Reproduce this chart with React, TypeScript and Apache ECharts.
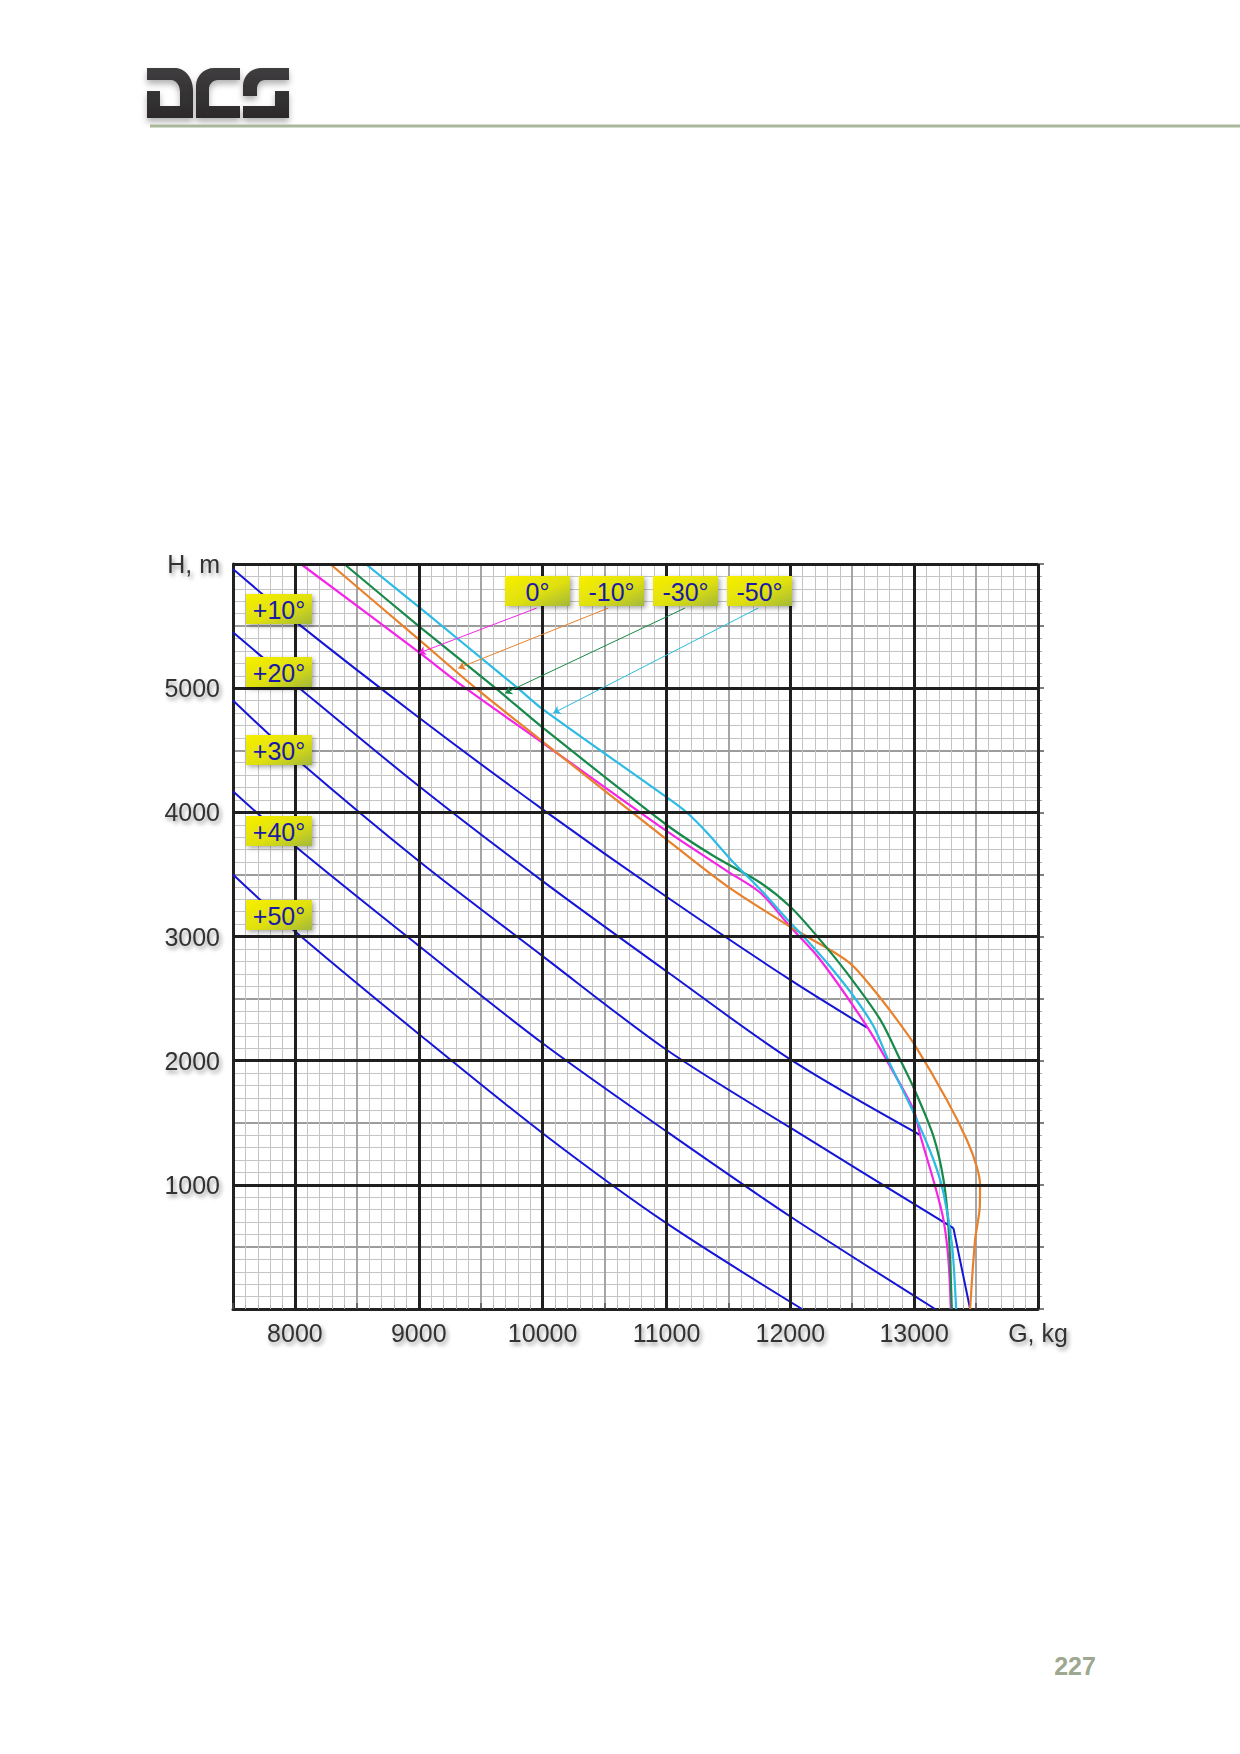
import React, { useEffect, useRef } from "react";
import * as echarts from "echarts";

// ---------- axis ranges & ticks ----------
const X_MIN = 7500;
const X_MAX = 14000;
const Y_MIN = 0;
const Y_MAX = 6000;
const xLabelValues = [8000, 9000, 10000, 11000, 12000, 13000];
const yLabelValues = [1000, 2000, 3000, 4000, 5000];
const xAxisName = "G, kg";
const yAxisName = "H, m";
const xMajor = [8000, 9000, 10000, 11000, 12000, 13000, 14000];
const yMajor = [1000, 2000, 3000, 4000, 5000, 6000];

// ---------- negative-temperature curves [G, H] ----------
const curve0 = [
  [8048, 6000], [9000, 5290], [9350, 5020], [10000, 4560], [11000, 3850],
  [11489, 3527], [11758, 3352], [12000, 3078], [12240, 2815], [12618, 2277],
  [12780, 2000], [12995, 1605], [13048, 1403], [13166, 1000], [13237, 718],
  [13277, 395], [13296, 0],
];
const curveM10 = [
  [8285, 6000], [9000, 5393], [9460, 5000], [10000, 4570], [11000, 3782],
  [11489, 3406], [12000, 3078], [12134, 3000], [12476, 2790], [12672, 2573],
  [12860, 2331], [13003, 2129], [13263, 1686], [13425, 1363], [13505, 1148],
  [13532, 1000], [13530, 825], [13492, 557], [13452, 0],
];
const curveM30 = [
  [8398, 6000], [9000, 5500], [9620, 5000], [10000, 4683], [11000, 3900],
  [11381, 3648], [11758, 3433], [12000, 3240], [12215, 3003], [12457, 2707],
  [12726, 2331], [12887, 2008], [13003, 1766], [13156, 1390], [13237, 1041],
  [13277, 664], [13304, 0],
];
const curveM50 = [
  [8572, 6000], [9000, 5654], [9800, 5000], [10000, 4831], [11000, 4122],
  [11166, 3997], [11328, 3836], [11543, 3594], [11758, 3379], [12000, 3110],
  [12107, 3000], [12296, 2788], [12511, 2519], [12672, 2277], [12793, 2000],
  [13003, 1565], [13156, 1202], [13237, 933], [13304, 530], [13339, 0],
];

// ---------- positive-temperature lines [G, H] ----------
const lineP10 = [[7500, 5960], [8000, 5540], [9000, 4764], [10000, 4024], [11000, 3320], [12000, 2650], [12620, 2265]];
const lineP20 = [[7500, 5450], [8000, 5030], [9000, 4212], [10000, 3446], [11000, 2720], [12000, 2010], [13050, 1400]];
const lineP30 = [[7500, 4900], [8000, 4440], [9000, 3608], [10000, 2842], [11000, 2088], [12000, 1460], [13317, 651]];
const lineP30Tail = [[13317, 651], [13452, 0]];
const lineP40 = [[7500, 4170], [8000, 3729], [9000, 2925], [10000, 2140], [11000, 1430], [12000, 745], [13169, 0]];
const lineP50 = [[7500, 3500], [8000, 3043], [9000, 2215], [10000, 1416], [11000, 691], [12094, 0]];

// ---------- label pointer arrows [start, tip] ----------
const arrow0 = [[9952, 5645], [8999, 5282]];
const arrowM10 = [[10530, 5645], [9319, 5161]];
const arrowM30 = [[11149, 5645], [9696, 4960]];
const arrowM50 = [[11741, 5645], [10086, 4799]];

// ---------- label texts ----------
const topLabelTexts = ["0°", "-10°", "-30°", "-50°"];
const leftLabelTexts = ["+10°", "+20°", "+30°", "+40°", "+50°"];
const pageNumber = "227";

// ---------- logo shapes ----------
const logoD = "M0 0 L28 0 C38 0 46 10 46 22 L46 50 L0 50 L0 23 L13 23 L13 38 L33 38 L33 24 C33 17 29 12 24 12 L0 12 Z";
const logoC = "M0 50 L0 18 C0 8 8 0 18 0 L44 0 L44 12 L22 12 C17 12 13 16 13 21 L13 38 L44 38 L44 50 Z";
const logoS = "M0 28 L0 18 C0 8 8 0 18 0 L46 0 L46 12 L22 12 C17 12 14 16 14 21 L14 28 Z M0 38 L32 38 L32 23 L46 23 L46 50 L0 50 Z";
echarts.graphic.registerShape("dcsD", echarts.graphic.extendPath(logoD, {}));
echarts.graphic.registerShape("dcsC", echarts.graphic.extendPath(logoC, {}));
echarts.graphic.registerShape("dcsS", echarts.graphic.extendPath(logoS, {}));

const FONT = '"Liberation Sans", Arial, sans-serif';
const BLUE = "#1515d8";
const textShadow = {
  textShadowColor: "rgba(0,0,0,0.4)",
  textShadowBlur: 4,
  textShadowOffsetX: 2,
  textShadowOffsetY: 3,
};

function buildOption() {
  const labelGrad = {
    type: "linear", x: 0, y: 0, x2: 1, y2: 1,
    colorStops: [
      { offset: 0, color: "#f7ef00" },
      { offset: 0.55, color: "#dfe00e" },
      { offset: 1, color: "#a3b83a" },
    ],
  };
  const boxShadow = { shadowBlur: 5, shadowColor: "rgba(0,0,0,0.35)", shadowOffsetX: 2, shadowOffsetY: 2 };

  const labelBox = (text: string, x: number, y: number, w: number, h: number) => [
    { type: "rect", z: 100, shape: { x, y, width: w, height: h }, style: { fill: labelGrad, ...boxShadow } },
    {
      type: "text", z: 101, x: x + w / 2, y: y + h / 2 + 1,
      style: {
        text, fill: "#1a1aa6", font: `25px ${FONT}`,
        align: "center", verticalAlign: "middle", textAlign: "center", textVerticalAlign: "middle",
      },
    },
  ];

  const topX = [505, 579, 653, 727];
  const leftY = [594, 657, 735, 816, 900];
  const graphics: any[] = [];
  topLabelTexts.forEach((t, i) => graphics.push(...labelBox(t, topX[i], 576, 65, 30)));
  leftLabelTexts.forEach((t, i) => graphics.push(...labelBox(t, 246, leftY[i], 66, 30)));

  const logoFill = {
    type: "linear", x: 0, y: 0, x2: 0, y2: 1,
    colorStops: [{ offset: 0, color: "#3f3d3e" }, { offset: 1, color: "#2c2a2b" }],
  };
  const logoStyle = { fill: logoFill, shadowBlur: 6, shadowColor: "rgba(0,0,0,0.3)", shadowOffsetY: 4 };
  graphics.push({ type: "dcsD", x: 147, y: 68, z: 100, style: logoStyle });
  graphics.push({ type: "dcsC", x: 196, y: 68, z: 100, style: logoStyle });
  graphics.push({ type: "dcsS", x: 243, y: 68, z: 100, style: logoStyle });
  graphics.push({
    type: "line", z: 100,
    shape: { x1: 150, y1: 126, x2: 1240, y2: 126 },
    style: { stroke: "#a9b79b", lineWidth: 3 },
  });
  graphics.push({
    type: "text", z: 100, x: 1075, y: 1666,
    style: {
      text: pageNumber, fill: "#9ea78f", font: `bold 25px "Liberation Sans Narrow", ${FONT}`,
      align: "center", verticalAlign: "middle", textAlign: "center", textVerticalAlign: "middle",
    },
  });

  const axisLabelBase = {
    show: true, fontSize: 25, fontFamily: FONT, color: "#333333", ...textShadow,
  };

  const blueSeries = [lineP10, lineP20, lineP30, lineP30Tail, lineP40, lineP50].map((d, i) => ({
    type: "line", name: "blue-" + i, data: d, showSymbol: false, symbol: "none",
    smooth: 0.3, z: 3, silent: true,
    lineStyle: { color: BLUE, width: 2 },
  }));

  const colored = [
    { name: topLabelTexts[0], data: curve0, color: "#f524e6", arrow: arrow0 },
    { name: topLabelTexts[1], data: curveM10, color: "#e9812c", arrow: arrowM10 },
    { name: topLabelTexts[2], data: curveM30, color: "#17894a", arrow: arrowM30 },
    { name: topLabelTexts[3], data: curveM50, color: "#2bbbe4", arrow: arrowM50 },
  ].map((c) => ({
    type: "line", name: c.name, data: c.data, showSymbol: false, symbol: "none",
    smooth: 0.3, z: 4, silent: true,
    lineStyle: { color: c.color, width: 2.2 },
    markLine: {
      silent: true, symbol: ["none", "arrow"], symbolSize: 7,
      label: { show: false },
      lineStyle: { color: c.color, width: 1, type: "solid", opacity: 1 },
      emphasis: { disabled: true },
      data: [[{ coord: c.arrow[0] }, { coord: c.arrow[1] }]],
    },
  }));

  const minorAxisCommon = {
    splitLine: { show: true, lineStyle: { color: "#9c9c9c", width: 1.8 } },
    minorTick: { show: false, splitNumber: 5 },
    minorSplitLine: { show: true, lineStyle: { color: "#c4c4c4", width: 1 } },
  };

  return {
    animation: false,
    backgroundColor: "#ffffff",
    grid: { left: 233, top: 564, width: 805, height: 745 },
    xAxis: [
      {
        type: "value", min: X_MIN, max: X_MAX, interval: 500, position: "bottom",
        axisLine: { show: true, onZero: false, lineStyle: { color: "#222", width: 3 } },
        axisTick: { show: false },
        axisLabel: {
          ...axisLabelBase, margin: 11,
          formatter: (v: number) => (v === X_MAX ? xAxisName : xLabelValues.includes(v) ? String(v) : ""),
        },
        ...minorAxisCommon,
      },
      {
        type: "value", min: X_MIN, max: X_MAX, interval: 500, position: "top",
        axisLine: { show: false },
        axisTick: { show: true, length: 6, lineStyle: { color: "#555", width: 1.5 } },
        minorTick: { show: true, splitNumber: 5, length: 4, lineStyle: { color: "#aaa", width: 1 } },
        axisLabel: { show: false },
        splitLine: { show: false },
      },
    ],
    yAxis: [
      {
        type: "value", min: Y_MIN, max: Y_MAX, interval: 500, position: "left",
        axisLine: { show: true, onZero: false, lineStyle: { color: "#222", width: 3 } },
        axisTick: { show: false },
        axisLabel: {
          ...axisLabelBase, margin: 13,
          formatter: (v: number) => (v === Y_MAX ? yAxisName : yLabelValues.includes(v) ? String(v) : ""),
        },
        ...minorAxisCommon,
      },
      {
        type: "value", min: Y_MIN, max: Y_MAX, interval: 500, position: "right",
        axisLine: { show: false },
        axisTick: { show: true, length: 6, lineStyle: { color: "#555", width: 1.5 } },
        minorTick: { show: true, splitNumber: 5, length: 4, lineStyle: { color: "#aaa", width: 1 } },
        axisLabel: { show: false },
        splitLine: { show: false },
      },
    ],
    series: [
      {
        type: "line", name: "major-grid", data: [[X_MIN, Y_MIN]], showSymbol: false, symbol: "none",
        lineStyle: { width: 0 }, z: 1, silent: true,
        markLine: {
          silent: true, symbol: ["none", "none"], label: { show: false },
          emphasis: { disabled: true },
          lineStyle: { color: "#1f1f1f", width: 3, type: "solid", opacity: 1 },
          data: [...xMajor.map((v) => ({ xAxis: v })), ...yMajor.map((v) => ({ yAxis: v }))],
        },
      },
      ...blueSeries,
      ...colored,
    ],
    graphic: { elements: graphics },
  };
}

export default function App() {
  const ref = useRef<HTMLDivElement>(null);
  useEffect(() => {
    if (!ref.current) return;
    const chart = echarts.init(ref.current, null, { renderer: "svg", width: 1240, height: 1754 });
    chart.setOption(buildOption() as any);
    return () => chart.dispose();
  }, []);
  return (
    <div
      ref={ref}
      style={{ position: "absolute", left: 0, top: 0, width: 1240, height: 1754, background: "#fff" }}
    />
  );
}
